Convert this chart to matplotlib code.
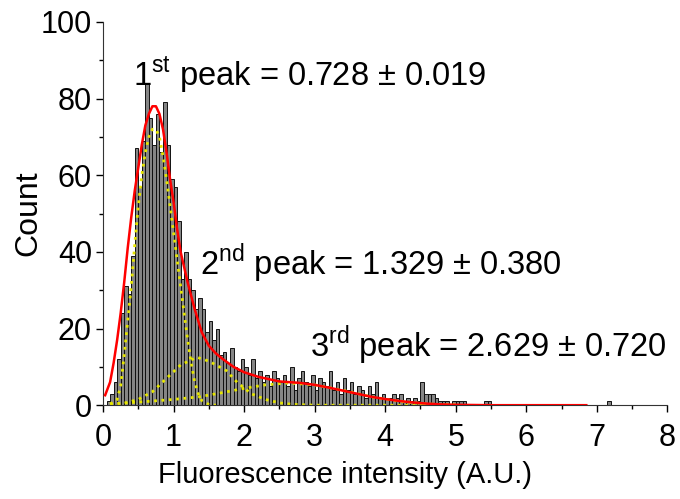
import numpy as np
import matplotlib
matplotlib.use('Agg')
import matplotlib.pyplot as plt
from matplotlib.ticker import MultipleLocator

plt.rcParams['font.family'] = ['Liberation Sans', 'DejaVu Sans']
plt.rcParams['mathtext.fontset'] = 'custom'
plt.rcParams['mathtext.rm'] = 'Liberation Sans'

# histogram, bin width 0.05, left edges start at 0.05
bin_width = 0.05
counts = [
    1, 3, 6, 12, 24, 31, 29, 39, 67, 57,
    69, 84, 75, 68, 76, 66, 79, 68, 59, 57,
    48, 33, 40, 33, 30, 25, 28, 25, 19, 22,
    17, 20, 13, 14, 11, 15, 10, 9, 12, 10,
    8, 12, 7, 9, 6, 8, 5, 9, 7, 6,
    8, 5, 10, 4, 7, 9, 6, 5, 8, 4,
    7, 6, 5, 9, 4, 6, 3, 7, 4, 6,
    3, 5, 4, 2, 5, 3, 6, 2, 3, 2,
    2, 3, 2, 3, 1, 2, 1, 2, 1, 6,
    3, 3, 3, 2, 1, 1, 1, 0, 1, 1,
    1, 1, 0, 0, 0, 0, 0, 1, 1, 0,
    0, 0, 0, 0, 0, 0, 0, 0, 0, 0,
    0, 0, 0, 0, 0, 0, 0, 0, 0, 0,
    0, 0, 0, 0, 0, 0, 0, 0, 0, 0,
    0, 0, 1,
]
bin_left = [round(0.05 + bin_width * i, 2) for i in range(len(counts))]

# cumulative fit (red)
fit_x = [0.03, 0.10, 0.15, 0.20, 0.25, 0.30, 0.35, 0.40, 0.45, 0.50, 0.55, 0.60,
         0.65, 0.70, 0.75, 0.80, 0.85, 0.90, 0.95, 1.00, 1.05, 1.10, 1.15, 1.20,
         1.30, 1.40, 1.50, 1.60, 1.70, 1.85, 2.00, 2.20, 2.50, 2.80, 3.00, 3.20,
         3.40, 3.60, 3.80, 4.00, 4.20, 4.40, 4.60, 4.80, 5.00, 5.50, 6.00, 6.85]
fit_y = [2.6, 6, 11, 17, 24, 32, 41, 49, 56, 62, 68, 73,
         76, 78, 78, 76, 72, 66, 59, 53, 46, 40, 36, 32,
         25, 19, 15.5, 13.5, 12, 10, 8.6, 7.4, 6.2, 5.8, 5.3, 4.6,
         3.8, 3.0, 2.2, 1.6, 1.1, 0.7, 0.4, 0.2, 0.1, 0.0, 0.0, 0.0]

# component peaks (yellow dotted)
p1_x = [0.10, 0.20, 0.25, 0.30, 0.35, 0.40, 0.45, 0.50, 0.55, 0.60, 0.65, 0.70,
        0.75, 0.80, 0.85, 0.90, 0.95, 1.00, 1.05, 1.10, 1.15, 1.20, 1.25, 1.30,
        1.35, 1.40, 1.50, 1.60]
p1_y = [0.3, 1.5, 5, 13, 22, 31, 42, 52, 60, 66, 70, 72,
        72, 70, 65, 59, 52, 45, 38, 31, 24, 17, 11, 6,
        3, 1.2, 0.2, 0.0]
p2_x = [0.10, 0.30, 0.50, 0.70, 0.90, 1.10, 1.33, 1.50, 1.75, 1.90, 2.10, 2.30,
        2.50, 2.70, 3.00, 4.00, 5.00]
p2_y = [0.2, 0.5, 1.5, 3.5, 7, 10.5, 12.5, 11.5, 9, 6, 3, 1.5,
        0.6, 0.2, 0.0, 0.0, 0.0]
p3_x = [0.10, 0.50, 1.00, 1.37, 1.70, 2.00, 2.30, 2.63, 3.00, 3.40, 3.80, 4.20,
        4.60, 5.00]
p3_y = [0.3, 0.8, 1.5, 2.2, 3.3, 4.4, 5.3, 5.8, 5.3, 3.9, 2.2, 1.0,
        0.3, 0.1]

labels = [r'1$^{\rm st}$ peak = 0.728 ± 0.019',
          r'2$^{\rm nd}$ peak = 1.329 ± 0.380',
          r'3$^{\rm rd}$ peak = 2.629 ± 0.720']
label_pos = [(0.43, 83.5), (1.37, 34), (2.93, 12.5)]

fig = plt.figure(figsize=(6.8, 4.99), dpi=100)
ax = fig.add_axes([0.1515, 0.188, 0.83, 0.768])

ax.bar(bin_left, counts, width=bin_width, align='edge',
       facecolor='#858585', edgecolor='#111111', linewidth=0.7, zorder=1)
for px, py in [(p1_x, p1_y), (p2_x, p2_y), (p3_x, p3_y)]:
    ax.plot(px, py, color='#e6e600', linestyle=':', linewidth=2, zorder=2)
ax.plot(fit_x, fit_y, color='#ff0000', linewidth=1.8, zorder=3)

for t, (tx, ty) in zip(labels, label_pos):
    ax.text(tx, ty, t, fontsize=23.5, ha='left', va='baseline')

ax.set_xlim(0, 8)
ax.set_ylim(0, 100)
ax.xaxis.set_major_locator(MultipleLocator(1))
ax.xaxis.set_minor_locator(MultipleLocator(0.5))
ax.yaxis.set_major_locator(MultipleLocator(20))
ax.yaxis.set_minor_locator(MultipleLocator(10))
ax.tick_params(which='major', direction='out', length=5, width=1, labelsize=22)
ax.tick_params(axis='x', which='major', pad=8)
ax.tick_params(axis='y', which='major', pad=3)
ax.tick_params(which='minor', direction='out', length=3, width=1)
ax.spines['top'].set_visible(False)
ax.spines['right'].set_visible(False)
for s in ['left', 'bottom']:
    ax.spines[s].set_color('#333333')

ax.set_xlabel('Fluorescence intensity (A.U.)', fontsize=21)
ax.xaxis.set_label_coords(0.428, -0.145)
ax.set_ylabel('Count', fontsize=23, labelpad=-2)

plt.savefig('out.png', dpi=100)
